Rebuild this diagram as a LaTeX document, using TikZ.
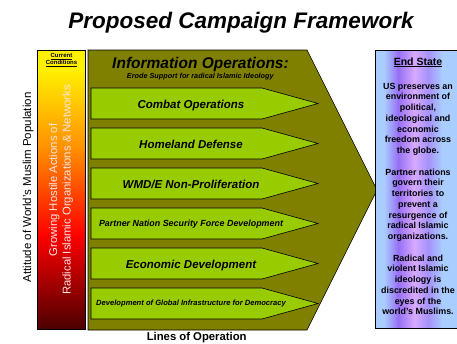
\documentclass[tikz,border=0pt]{standalone}
\usepackage{fontspec}
\setmainfont{Liberation Sans}

\definecolor{olivebg}{RGB}{128,128,0}
\definecolor{lopgreen}{RGB}{153,204,0}
\definecolor{baryellow}{RGB}{255,240,0}
\definecolor{barorange}{RGB}{255,140,0}
\definecolor{barred}{RGB}{255,0,0}
\definecolor{bardark}{RGB}{75,0,0}
\definecolor{barlabel}{RGB}{255,230,230}
\definecolor{esblue}{RGB}{170,205,255}
\definecolor{espurple}{RGB}{150,110,245}
\definecolor{espink}{RGB}{215,170,255}
\definecolor{esviolet}{RGB}{165,145,250}

\tikzset{
  frame/.style={draw=black, line width=0.6pt},
  lopshape/.style={fill=lopgreen, draw=black, line width=0.6pt},
  lbl/.style={inner sep=0pt, anchor=base},
  loplbl/.style={lbl, font=\fontsize{#1}{#1}\selectfont\bfseries\itshape},
}

\begin{document}
\begin{tikzpicture}[x=1pt, y=-1pt]
\useasboundingbox (0,0) rectangle (457,343);

% title
\node[lbl, font=\fontsize{22.5}{26}\selectfont\bfseries\itshape] (title) at (241,28.3) {Proposed Campaign Framework};

% current-conditions bar, yellow to dark red
\fill[baryellow] (37.5,50) rectangle (85.5,70.5);
\shade[top color=baryellow, bottom color=barorange] (37.5,70) rectangle (85.5,150.5);
\shade[top color=barorange, bottom color=barred] (37.5,150) rectangle (85.5,235.5);
\shade[top color=barred, bottom color=bardark] (37.5,235) rectangle (85.5,329.5);
\draw[frame] (37.5,50) rectangle (85.5,329.5);

% lines-of-operation block
\draw[frame, fill=olivebg] (88,50) -- (307,50) -- (377,190) -- (307,330) -- (88,330) -- cycle;

% green arrows
\foreach \k in {0,...,5}{
  \draw[lopshape] (91,{88+40*\k}) -- (262,{88+40*\k}) -- (318,{103.5+40*\k})
    -- (262,{119+40*\k}) -- (91,{119+40*\k}) -- cycle;
}

% end-state box with vertical colour bands
\fill[esblue] (375,50) rectangle (384.5,328);
\shade[left color=esblue, right color=espurple] (384,50) rectangle (398.5,328);
\shade[left color=espurple, right color=espink] (398,50) rectangle (414.5,328);
\shade[left color=espink, right color=esviolet] (414,50) rectangle (428.5,328);
\shade[left color=esviolet, right color=esblue] (428,50) rectangle (442.5,328);
\fill[esblue] (442,50) rectangle (462,328);
\draw[frame] (375,50) rectangle (462,328);

% side labels
\node[lbl, rotate=90, font=\fontsize{11.5}{13}\selectfont] (attitude) at (31,187.5) {Attitude of World's Muslim Population};
\node[inner sep=0pt, rotate=90, align=center, text=barlabel, font=\fontsize{11.3}{13.6}\selectfont] (hostile) at (61,190)
  {Growing Hostile Actions of\\Radical Islamic Organizations \& Networks};
\node[inner sep=0pt, anchor=north, align=center, font=\fontsize{6}{7}\selectfont\bfseries] (current) at (61.5,53.5)
  {\underline{Current}\\\underline{Conditions}};

% information operations heading
\node[lbl, font=\fontsize{15.5}{18}\selectfont\bfseries\itshape] (infoops) at (200.5,68.3) {Information Operations:};
\node[lbl, font=\fontsize{7.3}{8}\selectfont\bfseries\itshape] (erode) at (200.3,78.3) {Erode Support for radical Islamic Ideology};

% arrow labels
\node[loplbl=11.5] (combat) at (191,108) {Combat Operations};
\node[loplbl=11.5] (homeland) at (191,148) {Homeland Defense};
\node[loplbl=11.5] (wmd) at (191,188) {WMD/E Non-Proliferation};
\node[loplbl=8.9] (partner) at (191,226.7) {Partner Nation Security Force Development};
\node[loplbl=11.5] (economic) at (191,268) {Economic Development};
\node[loplbl=7.6] (democracy) at (191,305.7) {Development of Global Infrastructure for Democracy};

\node[lbl, font=\fontsize{11.3}{13}\selectfont\bfseries] (lines) at (196.7,340) {Lines of Operation};

% end state text
\node[lbl, font=\fontsize{10.5}{12}\selectfont\bfseries] (endstate) at (418,65) {\underline{End State}};
\node[inner sep=0pt, anchor=north, align=center, font=\fontsize{8.9}{10.75}\selectfont\bfseries] (goals) at (418,82.8)
  {US preserves an\\environment of\\political,\\ideological and\\economic\\freedom across\\the globe.\\[10.75pt]
   Partner nations\\govern their\\territories to\\prevent a\\resurgence of\\radical Islamic\\organizations.\\[10.75pt]
   Radical and\\violent Islamic\\ideology is\\discredited in the\\eyes of the\\world's Muslims.};
\end{tikzpicture}
\end{document}
